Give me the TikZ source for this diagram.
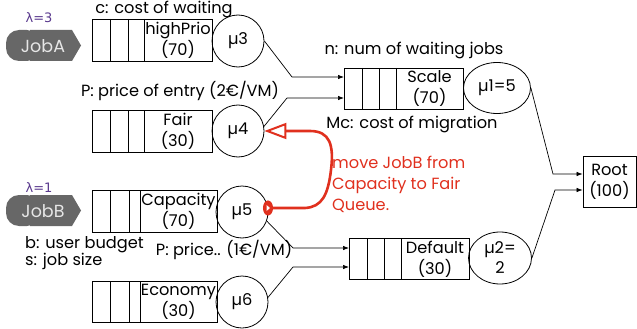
\documentclass[tikz,border=0pt]{standalone}
\usepackage{fontspec}
\setmainfont{Poppins}
\newfontfamily\grk{DejaVu Sans}
\usetikzlibrary{arrows.meta,shapes.geometric}
\definecolor{jobgray}{HTML}{676767}
\definecolor{jobtext}{HTML}{E6E6E6}
\definecolor{lampurple}{HTML}{5A3A8E}
\definecolor{noteRed}{HTML}{E0301E}

% queue: #1 name, #2 left, #3 top, #4 right, #5 bottom, #6 dividers, #7 label cell left, #8 label
\newcommand\queuebox[8]{%
  \node[qframe, minimum width={(#4-#2)*1pt}, minimum height={(#5-#3)*1pt}]
    (#1) at ({(#2+#4)/2},{(#3+#5)/2}) {};
  \foreach \d in {#6} \draw[qline] (\d,#3) -- (\d,#5);
  \node[qlabel] (#1-lbl) at ({(#7+#4)/2},{(#3+#5)/2+0.5}) {#8};
}

\begin{document}
\begin{tikzpicture}[x=1pt,y=-1pt,
  font=\fontsize{16.2}{21}\selectfont,
  qframe/.style={draw, line width=0.8pt, inner sep=0pt, outer sep=0pt},
  qline/.style={line width=0.8pt},
  qlabel/.style={align=center, inner sep=0pt},
  srv/.style={draw, circle, line width=0.8pt, inner sep=0pt, minimum size=52pt},
  srvell/.style={draw, ellipse, line width=0.8pt, inner sep=0pt, align=center},
  note/.style={inner sep=0pt},
  conn/.style={line width=0.7pt, -{Latex[length=6pt,width=4.5pt]}},
  jobshape/.style={fill=jobgray},
  jobname/.style={text=jobtext, inner sep=0pt, font=\fontsize{17.5}{21}\selectfont},
  lam/.style={text=lampurple, inner sep=0pt, font=\grk\fontsize{13}{15}\selectfont},
  redtext/.style={text=noteRed, inner sep=0pt, align=left, anchor=north west},
]
\useasboundingbox (0,0) rectangle (637,329);

% job arrivals
\fill[jobshape, rounded corners=13pt] (40,30) -- (6,30) -- (6,61) -- (40,61) -- cycle;
\fill[jobshape] (30,30) -- (72,30) -- (81,45.5) -- (72,61) -- (30,61) -- cycle;
\node[jobname] (jobA) at (43,46) {JobA};
\node[lam] (lamA) at (39,18) {λ=3};

\fill[jobshape, rounded corners=13pt] (40,195) -- (6,195) -- (6,226) -- (40,226) -- cycle;
\fill[jobshape] (30,195) -- (72,195) -- (81,210.5) -- (72,226) -- (30,226) -- cycle;
\node[jobname] (jobB) at (43,211) {JobB};
\node[lam] (lamB) at (39,188) {λ=1};

% queues
\queuebox{hp}{92}{19}{212}{61}{110,128,144}{144}{highPrio\\(70)}
\queuebox{fair}{92}{110}{212}{152}{110,128,144}{144}{Fair\\(30)}
\queuebox{cap}{92}{190}{217}{232}{110,129,140}{140}{Capacity\\(70)}
\queuebox{eco}{92}{281}{217}{322}{110,129,140}{140}{Economy\\(30)}
\queuebox{scale}{344}{68}{463}{109}{362,379,396}{396}{Scale\\(70)}
\queuebox{dflt}{349}{238}{469}{279}{367,384,401}{401}{Default\\(30)}

% servers
\node[srv] (mu3) at (238,41) {µ3};
\node[srv] (mu4) at (238,131) {µ4};
\node[srv] (mu5) at (242,212) {µ5};
\node[srv] (mu6) at (242,302) {µ6};
\node[srvell, minimum width=67pt, minimum height=51pt] (mu1) at (497,88) {µ1=5};
\node[srvell, minimum width=63pt, minimum height=52pt, font=\fontsize{16.2}{20}\selectfont] (mu2) at (500,258) {µ2=\\2};

% root
\node[draw, line width=0.8pt, minimum width=53pt, minimum height=51pt, inner sep=0pt, align=center] (root) at (609.5,181.5) {Root\\(100)};

% annotations
\node[note] (costwait) at (164,9) {c: cost of waiting};
\node[note] (priceA) at (180,91) {P: price of entry (2€/VM)};
\node[note] (nwait) at (414,50) {n: num of waiting jobs};
\node[note] (migr) at (412,124) {Mc: cost of migration};
\node[note, anchor=west] (budget) at (25,245) {b: user budget};
\node[note, anchor=west] (jsize) at (25,261) {s: job size};
\node[note] (priceB) at (224,250) {P: price.. (1€/VM)};
\node[redtext] (move) at (332,156) {move JobB from\\Capacity to Fair\\Queue.};

% connectors
\coordinate (b1) at (292,77);
\coordinate (b2) at (287,98);
\coordinate (b3) at (553,174);
\coordinate (b4) at (555,190);
\coordinate (b5) at (293,248);
\coordinate (b6) at (293,267);
\draw[conn] (mu3.east) -- (b1) -- (b1 -| scale.west);
\draw[conn] (mu4.10) -- (b2) -- (b2 -| scale.west);
\draw[conn] (mu1.east) -- (b3) -- (b3 -| root.west);
\draw[conn] (mu2.east) -- (b4) -- (b4 -| root.west);
\draw[conn] (mu5.-20) -- (b5) -- (b5 -| dflt.west);
\draw[conn] (mu6.10) -- (b6) -- (b6 -| dflt.west);

% migration arrow
\node[draw=noteRed, fill=noteRed, line width=2pt, ellipse, minimum width=8pt, minimum height=13pt, inner sep=0pt] (tail) at (268,208) {};
\fill[white] (266.5,205) -- (270,208) -- (266.5,211) -- cycle;
\draw[noteRed, line width=2.6pt, line cap=round,
      -{Triangle[length=22pt, width=16pt, fill=white, line width=2pt]}]
  (tail.east) -- (305,208) .. controls (322,207) and (328,195) .. (331,170)
  .. controls (334,145) and (330,131) .. (310,131) -- (mu4.east);
\end{tikzpicture}
\end{document}
